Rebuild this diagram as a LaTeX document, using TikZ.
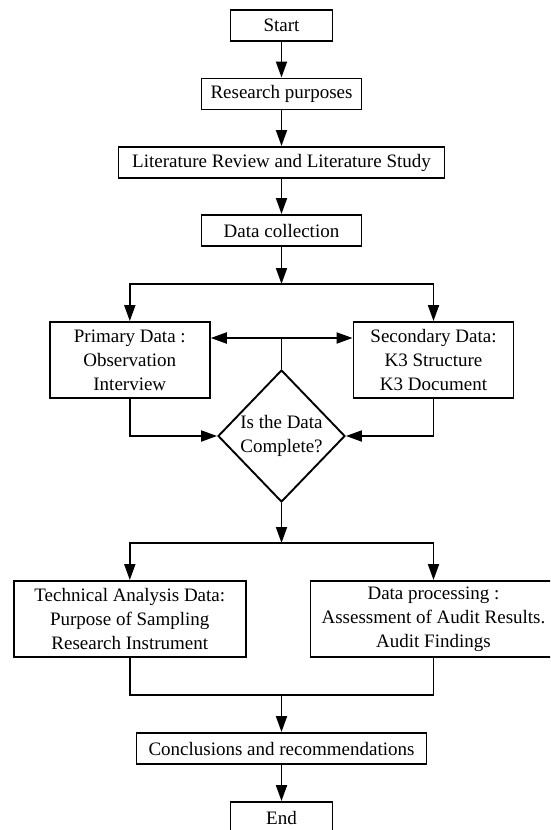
\documentclass[tikz,border=0pt]{standalone}
\usepackage{fontspec}
\setmainfont{Liberation Serif}
\usetikzlibrary{arrows.meta,shapes.geometric,calc}
\begin{document}
\begin{tikzpicture}[x=1pt,y=-1pt,
  every node/.style={font=\fontsize{19}{24}\selectfont},
  box/.style={draw,line width=1.9pt,rectangle,inner sep=0pt,align=center,minimum height=31pt},
  tallbox/.style={box,minimum height=76pt},
  dec/.style={draw,line width=1.9pt,diamond,inner sep=0pt,align=center,minimum width=127pt,minimum height=132pt},
  line/.style={line width=1.9pt},
  arr/.style={line,-{Triangle[length=16pt,width=11pt]}}]
\useasboundingbox (0,0) rectangle (550,830);
\clip (0,0) rectangle (550,830);
\node[box,minimum width=102pt] (start) at (281.5,25.5) {Start};
\node[box,minimum width=160pt] (rp) at (281.5,94) {Research purposes};
\node[box,minimum width=326pt] (lit) at (281.5,162.5) {Literature Review and Literature Study};
\node[box,minimum width=160pt] (dc) at (281.5,230.5) {Data collection};
\node[tallbox,minimum width=160pt] (pd) at (129.8,360) {Primary Data :\\Observation\\Interview};
\node[tallbox,minimum width=160pt] (sd) at (433.5,360) {Secondary Data:\\K3 Structure\\K3 Document};
\node[dec] (dia) at (281.5,436) {Is the Data\\Complete?};
\node[tallbox,minimum width=231.5pt] (ta) at (129.8,619) {Technical Analysis Data:\\Purpose of Sampling\\Research Instrument};
\node[tallbox,minimum width=246pt] (dp) at (433.5,619) {Data processing :\\Assessment of Audit Results.\\Audit Findings};
\node[box,minimum width=290pt] (conc) at (281.5,748.5) {Conclusions and recommendations};
\node[box,minimum width=102pt] (end) at (281.5,817.5) {End};
\coordinate (s1) at (281.5,284);
\coordinate (m) at (281.5,338);
\coordinate (s2) at (281.5,543);
\coordinate (j) at (281.5,695);
\draw[arr] (start) -- (rp);
\draw[arr] (rp) -- (lit);
\draw[arr] (lit) -- (dc);
\draw[arr] (dc) -- (s1);
\draw[arr] (s1) -| (pd.north);
\draw[arr] (s1) -| (sd.north);
\draw[line] (dia.north) -- (m);
\draw[arr] (m) -- (pd.east |- m);
\draw[arr] (m) -- (sd.west |- m);
\draw[arr] (pd.south) |- (dia.west);
\draw[arr] (sd.south) |- (dia.east);
\draw[arr] (dia.south) -- (s2);
\draw[arr] (s2) -| (ta.north);
\draw[arr] (s2) -| (dp.north);
\draw[line] (ta.south) |- (j) -| (dp.south);
\draw[arr] (j) -- (conc);
\draw[arr] (conc) -- (end);
\end{tikzpicture}
\end{document}
